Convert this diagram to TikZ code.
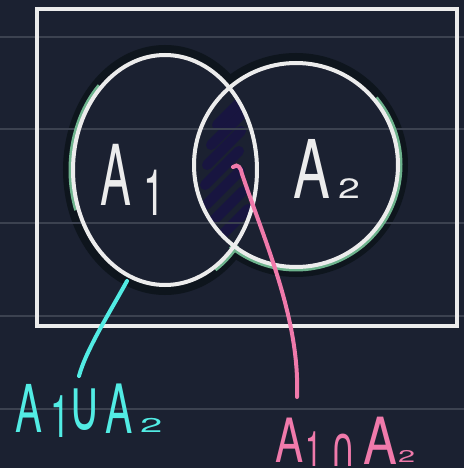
\documentclass[tikz,border=0pt]{standalone}
\usepackage{fontspec}
\setmainfont{TeX Gyre Heros}
\newfontfamily\symfont{DejaVu Sans}
\usepackage{graphicx}
\definecolor{bgc}{HTML}{1B2131}
\definecolor{shadowc}{HTML}{0E151D}
\definecolor{rulec}{HTML}{3C4250}
\definecolor{inkw}{HTML}{ECECEC}
\definecolor{inkg}{HTML}{6DB38D}
\definecolor{inkc}{HTML}{52ECE4}
\definecolor{inkp}{HTML}{F07AAB}
\definecolor{hatchc}{HTML}{181540}
% glyph placer: x offset, raise, size, xscale, text
\newcommand\gl[5]{\rlap{\kern#1pt\raisebox{#2pt}{\fontsize{#3}{#3}\selectfont\scalebox{#4}[1]{#5}}}}
\begin{document}
\begin{tikzpicture}[x=1pt,y=-1pt,
  ruleline/.style={rulec, line width=2.5},
  ring/.style={inkw, line width=4},
  glow/.style={inkg, line width=5},
  halo/.style={shadowc, line width=20},
  pen/.style={line width=4, line cap=round},
  lab/.style={anchor=base west, inner sep=0, outer sep=0}]
\useasboundingbox (0,0) rectangle (464,468);
\fill[bgc] (0,0) rectangle (464,468);
% dark halo around the circles
\draw[halo] (165,170) ellipse [x radius=92, y radius=115];
\draw[halo] (296,165) circle [radius=102];
\fill[bgc] (165,170) ellipse [x radius=92, y radius=115];
\fill[bgc] (296,165) circle [radius=102];
% hatching of the intersection
\begin{scope}
  \clip (165,170) ellipse [x radius=92, y radius=115];
  \clip (296,165) circle [radius=102];
  \foreach \cx/\cy in {234/108, 228/128, 224/148, 222/168, 223/188, 226/208, 231/226}
    \draw[hatchc, line width=10, line cap=round] (\cx-17,\cy+17) -- (\cx+17,\cy-17);
\end{scope}
% notebook rules
\foreach \yy in {37,129,223,316,409}
  \draw[ruleline] (0,\yy) -- (464,\yy);
% frame
\draw[inkw, line width=4] (37,9) rectangle (457,326);
% green glimpses
\draw[glow] [shift={(165,170)}] (-134:94 and 117) arc [start angle=-134, end angle=-200, x radius=94, y radius=117];
\draw[glow] [shift={(165,170)}] (40:94 and 117) arc [start angle=40, end angle=58, x radius=94, y radius=117];
\draw[glow] [shift={(296,165)}] (-40:104) arc [start angle=-40, end angle=129, radius=104];
% circles
\draw[ring] (165,170) ellipse [x radius=92, y radius=115];
\draw[ring] (296,165) circle [radius=102];
% labels in the circles
\node[lab, inkw] (a1) at (100,205) {\gl{0}{0}{84}{0.55}{A}\gl{43}{-10}{64}{0.6}{1}\kern58pt};
\node[lab, inkw] (a2) at (293,198) {\gl{0}{0}{81}{0.68}{A}\gl{45}{0}{28}{1.4}{2}\kern68pt};
% union label
\node[lab, inkc] (uni) at (15,432) {\gl{0}{0}{66}{0.61}{A}\gl{35}{-5}{59}{0.6}{1}\gl{53}{2}{72}{0.62}{\symfont ∪}\gl{90}{-1}{68}{0.6}{A}\gl{125}{0}{20}{2}{2}\kern148pt};
% intersection label
\node[lab, inkp] (int) at (275,462) {\gl{0}{0}{61}{0.69}{A}\gl{30}{-4}{49}{0.6}{1}\gl{55}{-4}{56}{0.62}{\symfont ∩}\gl{88}{-2}{65}{0.78}{A}\gl{123}{0}{17}{1.8}{2}\kern140pt};
% pointers
\coordinate (u0) at (127,281);
\coordinate (u1) at (79,376);
\draw[inkc, pen] (u0) .. controls (110,312) and (86,350) .. (u1);
\coordinate (p0) at (233,167);
\coordinate (p1) at (297,397);
\draw[inkp, pen] (p0) .. controls (238,163) and (241,168) .. (242,174) .. controls (266,245) and (300,320) .. (p1);
\end{tikzpicture}
\end{document}
